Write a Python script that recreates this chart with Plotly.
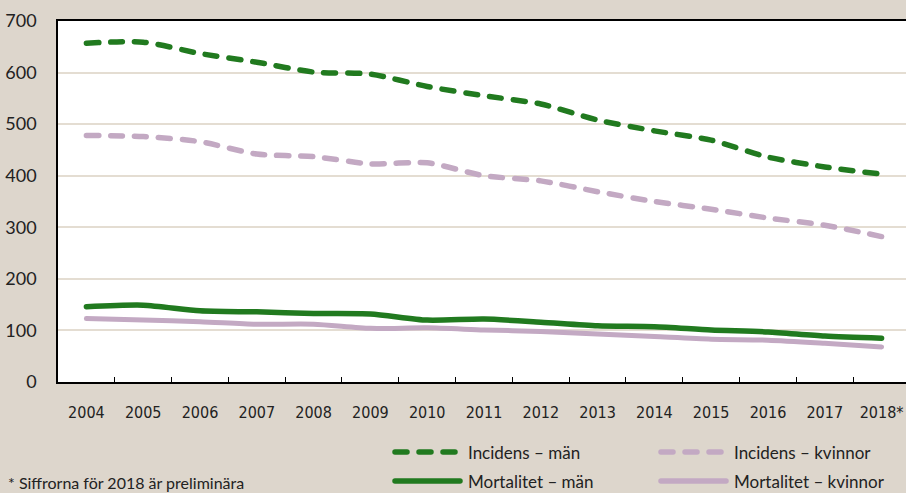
import plotly.graph_objects as go

years = ["2004", "2005", "2006", "2007", "2008", "2009", "2010", "2011",
         "2012", "2013", "2014", "2015", "2016", "2017", "2018*"]
incidens_man = [657, 659, 637, 620, 601, 597, 573, 555, 539, 508, 487, 469, 436, 417, 403]
incidens_kvinnor = [478, 476, 466, 442, 437, 423, 425, 400, 390, 369, 350, 335, 318, 304, 282]
mortalitet_man = [146, 149, 138, 136, 133, 132, 120, 122, 116, 109, 107, 101, 97, 89, 85]
mortalitet_kvinnor = [123, 120, 117, 112, 112, 104, 105, 101, 98, 93, 88, 83, 81, 75, 68]
y_ticks = [0, 100, 200, 300, 400, 500, 600, 700]
footnote = "* Siffrorna för 2018 är preliminära"

GREEN = "#217a1f"
PURPLE = "#c3a9c3"
BG = "#ddd6cc"
GRID = "#e4ddd2"
FONT = "Lato, 'Liberation Sans', sans-serif"
XFONT = "'Liberation Sans Narrow', 'DejaVu Sans Condensed', sans-serif"

W, H = 906, 493
L, T, B = 58, 21, 382  # plot area pixels
PW = W - L
PH = B - T

series = [
    ("Mortalitet – kvinnor", mortalitet_kvinnor, PURPLE, "solid", 5),
    ("Mortalitet – män", mortalitet_man, GREEN, "solid", 5.5),
    ("Incidens – kvinnor", incidens_kvinnor, PURPLE, "12px,12px", 5.5),
    ("Incidens – män", incidens_man, GREEN, "12px,12px", 5.5),
]

fig = go.Figure()
for name, vals, col, dash, w in series:
    fig.add_trace(go.Scatter(
        x=years, y=vals, name=name, mode="lines",
        line=dict(color=col, width=w, dash=dash, shape="spline", smoothing=0.7),
        showlegend=False, hoverinfo="x+y+name",
    ))

def px_x(px):
    return (px - L) / PW

def px_y(py):
    return (B - py) / PH

# custom legend (two columns, two rows)
legend_items = [
    ("Incidens – män", GREEN, "12px,12px", 392, 452),
    ("Incidens – kvinnor", PURPLE, "12px,12px", 658, 452),
    ("Mortalitet – män", GREEN, "solid", 392, 481),
    ("Mortalitet – kvinnor", PURPLE, "solid", 658, 481),
]
shapes = []
annotations = []
for label, col, dash, x0, yc in legend_items:
    shapes.append(dict(
        type="line", xref="paper", yref="paper",
        x0=px_x(x0 + 3), x1=px_x(x0 + 68), y0=px_y(yc), y1=px_y(yc),
        line=dict(color=col, width=5.5, dash=dash),
    ))
    annotations.append(dict(
        text=label, xref="paper", yref="paper",
        x=px_x(x0 + 74), y=px_y(yc), xanchor="left", yanchor="middle",
        showarrow=False, font=dict(family=FONT, size=17, color="#222222"),
    ))

annotations.append(dict(
    text=footnote, xref="paper", yref="paper",
    x=px_x(6), y=px_y(482), xanchor="left", yanchor="middle",
    showarrow=False, font=dict(family=FONT, size=16, color="#222222"),
))

fig.update_layout(
    width=W, height=H,
    margin=dict(l=L, r=0, t=T, b=H - B, pad=0),
    paper_bgcolor=BG, plot_bgcolor="white",
    font=dict(family=FONT, size=17, color="#222222"),
    shapes=shapes, annotations=annotations,
    showlegend=False,
)
fig.update_xaxes(
    type="category", range=[-0.5, 14.43],
    showline=True, linecolor="black", linewidth=1.5, mirror=True,
    ticks="inside", ticklen=5, tickcolor="black", tickwidth=1,
    tickson="boundaries", showgrid=False, zeroline=False,
    tickfont=dict(family=XFONT, size=16, color="#222222"),
    ticklabelstandoff=15,
)
fig.update_yaxes(
    range=[0, 700], tickvals=y_ticks,
    showline=True, linecolor="black", linewidth=1.5,
    ticks="", showgrid=True, gridcolor=GRID, gridwidth=1.5,
    zeroline=False, tickfont=dict(family=FONT, size=18, color="#222222"),
    ticklabelstandoff=16,
)

post = """
(function(){
  document.documentElement.style.margin = '0';
  document.documentElement.style.padding = '0';
  document.documentElement.style.overflow = 'hidden';
  document.body.style.margin = '0';
  document.body.style.padding = '0';
  document.body.style.overflow = 'hidden';
  document.body.style.background = '#ddd6cc';
  var gd = document.getElementById('{plot_id}');
  function fix(){
    gd.querySelectorAll('.scatterlayer path.js-line, .shapelayer path').forEach(function(p){
      p.style.strokeLinecap = 'round';
      p.style.strokeLinejoin = 'round';
    });
  }
  fix();
  if (gd.on) gd.on('plotly_afterplot', fix);
})();
"""
fig.write_html("out.html", post_script=post, config={"displayModeBar": False})
